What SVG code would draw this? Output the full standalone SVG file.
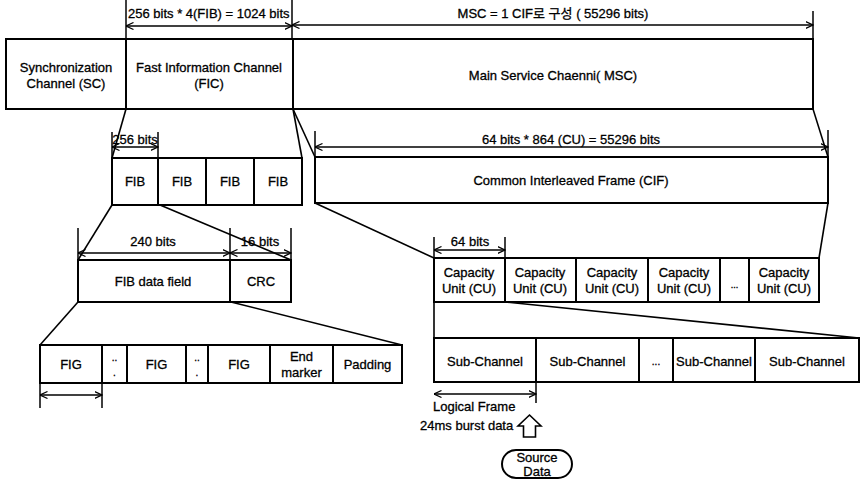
<svg xmlns="http://www.w3.org/2000/svg" width="861" height="480" viewBox="0 0 861 480">
<defs>
<style>
.box{fill:#fff;stroke:#000;stroke-width:2}
.ln{fill:none;stroke:#000;stroke-width:1.6}
.dim{fill:none;stroke:#000;stroke-width:1.5;marker-start:url(#ah);marker-end:url(#ah)}
.ext{fill:none;stroke:#000;stroke-width:1.5}
text{font-family:"Liberation Sans","Noto Sans CJK KR",Arial,sans-serif;font-size:13px;fill:#000;stroke:#000;stroke-width:0.3}
.c{text-anchor:middle;dominant-baseline:central}
</style>
<marker id="ah" viewBox="0 0 8 8" refX="7.5" refY="4" markerWidth="8" markerHeight="8" markerUnits="userSpaceOnUse" orient="auto-start-reverse">
<path d="M0,0.5 L7.5,4 L0,7.5" fill="none" stroke="#000" stroke-width="1.2"/>
</marker>
</defs>
<rect width="861" height="480" fill="#fff"/>

<g id="connectors">
<line class="ln" x1="126" y1="109" x2="112" y2="158"/>
<line class="ln" x1="293" y1="109" x2="302" y2="158"/>
<line class="ln" x1="293" y1="109" x2="315" y2="157"/>
<line class="ln" x1="813" y1="109" x2="828" y2="157"/>
<line class="ln" x1="112" y1="205" x2="78" y2="260"/>
<line class="ln" x1="160" y1="205" x2="291" y2="260"/>
<line class="ln" x1="315" y1="203" x2="434" y2="258"/>
<line class="ln" x1="828" y1="203" x2="819" y2="258"/>
<line class="ln" x1="78" y1="302" x2="40" y2="345"/>
<line class="ln" x1="231" y1="302" x2="402" y2="345"/>
<line class="ln" x1="434" y1="302" x2="434" y2="338"/>
<line class="ln" x1="505" y1="302" x2="859" y2="338"/>
</g>

<g id="dimensions">
<line class="ext" x1="126" y1="0" x2="126" y2="39"/>
<line class="ext" x1="292" y1="0" x2="292" y2="39"/>
<line class="ext" x1="813" y1="11" x2="813" y2="39"/>
<line class="dim" x1="126" y1="26" x2="292" y2="26"/>
<line class="dim" x1="292" y1="25" x2="813" y2="25"/>
<text x="128" y="18">256 bits * 4(FIB) = 1024 bits</text>
<text x="553" y="18" text-anchor="middle">MSC = 1 CIF로 구성 ( 55296 bits)</text>

<line class="ext" x1="112" y1="132" x2="112" y2="158"/>
<line class="ext" x1="158" y1="132" x2="158" y2="158"/>
<line class="dim" x1="112" y1="147" x2="158" y2="147"/>
<text x="135" y="144" text-anchor="middle">256 bits</text>

<line class="ext" x1="315" y1="131" x2="315" y2="157"/>
<line class="ext" x1="828" y1="130" x2="828" y2="157"/>
<line class="dim" x1="315" y1="147" x2="828" y2="147"/>
<text x="571" y="144" text-anchor="middle">64 bits * 864 (CU) = 55296 bits</text>

<line class="ext" x1="78" y1="228" x2="78" y2="260"/>
<line class="ext" x1="230" y1="228" x2="230" y2="260"/>
<line class="ext" x1="291" y1="228" x2="291" y2="260"/>
<line class="dim" x1="78" y1="253" x2="230" y2="253"/>
<line class="dim" x1="230" y1="253" x2="291" y2="253"/>
<text x="153" y="246" text-anchor="middle">240 bits</text>
<text x="260" y="246" text-anchor="middle">16 bits</text>

<line class="ext" x1="434" y1="237" x2="434" y2="258"/>
<line class="ext" x1="505" y1="237" x2="505" y2="258"/>
<line class="dim" x1="434" y1="250" x2="505" y2="250"/>
<text x="470" y="246" text-anchor="middle">64 bits</text>

<line class="ext" x1="40" y1="383" x2="40" y2="408"/>
<line class="ext" x1="102" y1="383" x2="102" y2="408"/>
<line class="dim" x1="40" y1="395" x2="102" y2="395"/>

<line class="ext" x1="536" y1="382" x2="536" y2="403"/>
<line class="dim" x1="434" y1="394" x2="536" y2="394"/>
<text x="433" y="411">Logical Frame</text>
</g>

<g id="sc"><rect class="box" x="6" y="39" width="120" height="70"/><text class="c" x="66" y="67">Synchronization</text><text class="c" x="66" y="83">Channel (SC)</text></g>
<g id="fic"><rect class="box" x="126" y="39" width="167" height="70"/><text class="c" x="209" y="67">Fast Information Channel</text><text class="c" x="209" y="83">(FIC)</text></g>
<g id="msc"><rect class="box" x="293" y="39" width="520" height="70"/><text class="c" x="553" y="75">Main Service Chaenni( MSC)</text></g>

<g id="fib1"><rect class="box" x="112" y="158" width="46" height="47"/><text class="c" x="135" y="181">FIB</text></g>
<g id="fib2"><rect class="box" x="158" y="158" width="48" height="47"/><text class="c" x="182" y="181">FIB</text></g>
<g id="fib3"><rect class="box" x="206" y="158" width="48" height="47"/><text class="c" x="230" y="181">FIB</text></g>
<g id="fib4"><rect class="box" x="254" y="158" width="48" height="47"/><text class="c" x="278" y="181">FIB</text></g>

<g id="cif"><rect class="box" x="315" y="157" width="513" height="46"/><text class="c" x="571" y="180">Common Interleaved Frame (CIF)</text></g>

<g id="fib-data"><rect class="box" x="78" y="260" width="152" height="42"/><text class="c" x="153" y="281">FIB data field</text></g>
<g id="crc"><rect class="box" x="230" y="260" width="61" height="42"/><text class="c" x="261" y="281">CRC</text></g>

<g id="cu1"><rect class="box" x="434" y="258" width="71" height="44"/><text class="c" x="469" y="272">Capacity</text><text class="c" x="469" y="288">Unit (CU)</text></g>
<g id="cu2"><rect class="box" x="505" y="258" width="71" height="44"/><text class="c" x="540" y="272">Capacity</text><text class="c" x="540" y="288">Unit (CU)</text></g>
<g id="cu3"><rect class="box" x="576" y="258" width="72" height="44"/><text class="c" x="612" y="272">Capacity</text><text class="c" x="612" y="288">Unit (CU)</text></g>
<g id="cu4"><rect class="box" x="648" y="258" width="72" height="44"/><text class="c" x="684" y="272">Capacity</text><text class="c" x="684" y="288">Unit (CU)</text></g>
<g id="cu-dots"><rect class="box" x="720" y="258" width="29" height="44"/><text class="c" x="734.5" y="285" style="font-size:9px">...</text></g>
<g id="cu5"><rect class="box" x="749" y="258" width="70" height="44"/><text class="c" x="784" y="272">Capacity</text><text class="c" x="784" y="288">Unit (CU)</text></g>

<g id="fig1"><rect class="box" x="40" y="345" width="62" height="38"/><text class="c" x="71" y="364">FIG</text></g>
<g id="fig-dots1"><rect class="box" x="102" y="345" width="25" height="38"/><text class="c" x="114.5" y="357" style="font-size:10px">..</text><text class="c" x="114.5" y="372" style="font-size:10px">.</text></g>
<g id="fig2"><rect class="box" x="127" y="345" width="59" height="38"/><text class="c" x="156.5" y="364">FIG</text></g>
<g id="fig-dots2"><rect class="box" x="186" y="345" width="22" height="38"/><text class="c" x="197" y="357" style="font-size:10px">..</text><text class="c" x="197" y="372" style="font-size:10px">.</text></g>
<g id="fig3"><rect class="box" x="208" y="345" width="62" height="38"/><text class="c" x="239" y="364">FIG</text></g>
<g id="end-marker"><rect class="box" x="270" y="345" width="63" height="38"/><text class="c" x="301.5" y="356">End</text><text class="c" x="301.5" y="372">marker</text></g>
<g id="padding"><rect class="box" x="333" y="345" width="69" height="38"/><text class="c" x="367.5" y="364">Padding</text></g>

<g id="sub1"><rect class="box" x="434" y="338" width="102" height="44"/><text class="c" x="485" y="361">Sub-Channel</text></g>
<g id="sub2"><rect class="box" x="536" y="338" width="103" height="44"/><text class="c" x="587.5" y="361">Sub-Channel</text></g>
<g id="sub-dots"><rect class="box" x="639" y="338" width="34" height="44"/><text class="c" x="656" y="361" style="font-size:10px">...</text></g>
<g id="sub3"><rect class="box" x="673" y="338" width="82" height="44"/><text class="c" x="714" y="361">Sub-Channel</text></g>
<g id="sub4"><rect class="box" x="755" y="338" width="104" height="44"/><text class="c" x="807" y="361">Sub-Channel</text></g>

<g id="burst"><text x="420" y="430">24ms burst data</text>
<polygon points="529.5,415 541,426 535.5,426 535.5,437 523.5,437 523.5,426 518,426" fill="#fff" stroke="#000" stroke-width="1.6" stroke-linejoin="miter"/></g>

<g id="source-data"><rect class="box" x="502" y="450" width="70" height="28" rx="14" ry="14"/><text class="c" x="537" y="457">Source</text><text class="c" x="537" y="471">Data</text></g>
</svg>
